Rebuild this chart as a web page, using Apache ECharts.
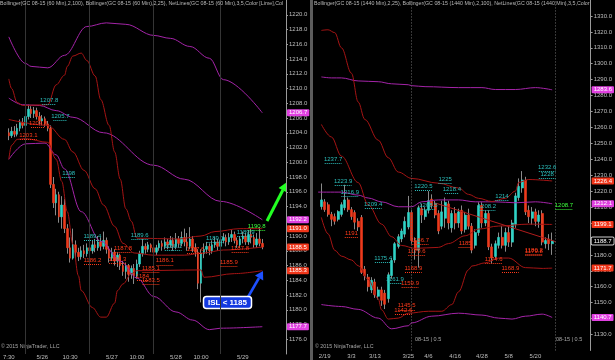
<!DOCTYPE html>
<html><head><meta charset="utf-8">
<script src="https://cdn.jsdelivr.net/npm/echarts@6/dist/echarts.min.js"></script>
<style>html,body{margin:0;padding:0;background:#000;}#c{width:615px;height:360px;}</style>
</head><body><div id="c"></div>
<script>
const FONT = 'Liberation Sans, Arial, sans-serif';

// ---------- LEFT PANEL (60 min) ----------
const leftSlots = 100;
const leftXLabels = [[0,'7:30'],[12,'5/26'],[22,'10:30'],[37,'5/27'],[46,'10:00'],[60,'5/28'],[69,'10:00'],[84,'5/29']];
const leftDayBreaks = [6, 29, 52, 76];
// [open, close, low, high]
const leftOHLC = [
[1204.0,1203.6,1203.0,1204.6],[1203.6,1204.2,1203.3,1204.8],[1204.2,1203.8,1203.4,1204.9],[1203.8,1204.6,1203.5,1205.2],
[1204.6,1205.4,1204.2,1205.8],[1205.4,1205.0,1204.6,1206.0],[1205.0,1206.2,1204.8,1206.6],[1206.2,1207.2,1205.8,1207.8],
[1207.2,1206.6,1206.0,1207.6],[1206.6,1207.0,1206.0,1207.5],[1207.0,1206.2,1205.8,1207.4],[1206.2,1205.6,1205.0,1206.8],
[1205.6,1205.9,1205.0,1206.4],[1205.9,1205.2,1204.8,1206.2],[1205.2,1204.6,1204.2,1205.6],[1204.6,1197.0,1196.5,1205.0],
[1197.0,1194.5,1193.8,1198.0],[1194.5,1195.6,1192.8,1196.4],[1195.6,1192.6,1191.8,1196.0],[1192.6,1194.2,1191.0,1195.4],
[1194.2,1191.0,1190.4,1195.0],[1191.0,1188.4,1187.6,1191.6],[1188.4,1187.0,1186.4,1189.8],[1187.0,1188.8,1186.8,1191.0],
[1188.8,1187.8,1187.0,1189.4],[1187.8,1187.2,1186.6,1188.4],[1187.2,1188.0,1186.8,1188.6],[1188.0,1187.6,1187.0,1188.8],
[1187.6,1188.4,1187.2,1189.0],[1188.4,1188.0,1187.4,1189.4],[1188.0,1188.8,1187.6,1189.4],[1188.8,1188.4,1187.8,1189.6],
[1188.4,1189.2,1188.0,1190.0],[1189.2,1188.6,1188.0,1189.8],[1188.6,1189.4,1188.2,1190.6],[1189.4,1188.2,1187.6,1189.8],
[1188.2,1187.0,1186.4,1188.6],[1187.0,1187.8,1186.6,1188.4],[1187.8,1186.6,1186.0,1188.2],[1186.6,1187.4,1185.8,1187.8],
[1187.4,1186.0,1185.4,1187.6],[1186.0,1185.2,1184.6,1186.6],[1185.2,1186.0,1184.2,1186.4],[1186.0,1184.8,1183.8,1186.2],
[1184.8,1185.6,1184.2,1186.0],[1185.6,1184.6,1183.5,1186.2],[1184.6,1186.2,1184.2,1186.8],[1186.2,1187.6,1185.8,1188.0],
[1187.6,1188.6,1187.2,1189.6],[1188.6,1188.2,1187.6,1189.0],[1188.2,1188.8,1187.8,1189.2],[1188.8,1188.4,1187.8,1189.0],
[1188.4,1187.8,1187.2,1188.8],[1187.8,1188.4,1187.4,1188.8],[1188.4,1189.0,1188.0,1189.4],[1189.0,1188.6,1188.0,1189.4],
[1188.6,1189.2,1188.2,1189.8],[1189.2,1188.8,1188.2,1189.6],[1188.8,1189.4,1188.4,1190.0],[1189.4,1188.6,1188.0,1189.8],
[1188.6,1189.6,1188.2,1190.4],[1189.6,1189.0,1188.4,1190.0],[1189.0,1189.8,1188.6,1190.6],[1189.8,1189.2,1188.6,1191.0],
[1189.2,1188.6,1188.0,1190.4],[1188.6,1189.6,1188.2,1191.2],[1189.6,1188.4,1187.8,1190.0],[1188.4,1187.8,1187.2,1189.0],
[1187.8,1183.6,1182.8,1188.2],[1183.6,1187.6,1181.0,1188.2],[1187.6,1188.2,1187.0,1189.0],[1188.2,1188.6,1187.6,1189.2],
[1188.6,1188.0,1187.4,1189.0],[1188.0,1188.8,1187.6,1189.4],[1188.8,1189.2,1188.4,1189.8],[1189.2,1188.6,1188.0,1189.6],
[1188.6,1189.4,1188.2,1190.0],[1189.4,1189.8,1189.0,1190.4],[1189.8,1189.2,1188.6,1190.2],[1189.2,1189.8,1188.8,1190.4],
[1189.8,1190.2,1189.2,1190.8],[1190.2,1189.4,1189.0,1190.6],[1189.4,1188.8,1188.4,1189.8],[1188.8,1189.6,1188.4,1190.0],
[1189.6,1190.0,1189.0,1190.6],[1190.0,1189.2,1188.8,1190.4],[1189.2,1190.2,1188.8,1190.8],[1190.2,1189.8,1189.0,1191.0],
[1189.8,1188.8,1188.4,1190.2],[1188.8,1189.6,1188.4,1190.4],[1189.6,1189.0,1188.6,1191.2],[1189.0,1188.5,1188.2,1189.6]
];
// Bollinger (2,100) – purple ; [barIndex, value]
const leftUpper100 = [[0,1217.0],[6,1213.4],[8,1213.0],[14,1212.8],[20,1214.5],[28,1218.4],[35,1218.9],[42,1218.7],[52,1217.2],[58,1216.8],[65,1215.7],[72,1214.1],[77,1211.2],[91,1206.7]];
const leftMid100   = [[0,1208.7],[5,1207.8],[11,1207.7],[17,1207.0],[23,1206.1],[34,1204.0],[52,1199.6],[63,1197.7],[76,1194.7],[91,1192.2]];
const leftLower100 = [[0,1200.4],[6,1202.5],[13,1202.6],[17,1201.0],[20,1199.1],[26,1193.3],[33,1189.3],[40,1186.6],[46,1184.3],[52,1181.8],[60,1179.7],[66,1178.6],[72,1177.3],[76,1177.5],[91,1177.7]];
// Bollinger (2,25) – dark red
const leftUpper25 = [[0,1211.3],[1,1210.0],[3,1208.1],[5,1207.7],[14,1207.8],[17,1210.5],[20,1211.8],[21,1213.0],[23,1214.4],[26,1214.8],[28,1213.8],[31,1211.7],[33,1208.5],[36,1205.0],[38,1201.4],[40,1197.7],[42,1193.7],[44,1192.0],[46,1189.7],[61,1189.6],[69,1190.0],[74,1190.6],[83,1191.0],[91,1191.0]];
const leftMid25   = [[0,1205.8],[14,1205.0],[20,1203.1],[23,1201.4],[27,1198.9],[31,1196.4],[34,1194.2],[38,1191.3],[41,1189.0],[45,1187.7],[52,1187.4],[63,1187.4],[70,1187.7],[77,1188.1],[91,1188.5]];
const leftLower25 = [[0,1200.4],[1,1202.3],[3,1203.1],[6,1203.2],[14,1202.7],[17,1200.4],[19,1197.4],[21,1193.3],[23,1188.9],[25,1184.6],[26,1182.6],[30,1180.3],[33,1179.0],[35,1179.0],[38,1180.9],[39,1182.6],[41,1183.5],[44,1184.9],[46,1185.3],[69,1185.4],[70,1184.4],[81,1184.9],[91,1185.3]];
// NetLines labels: [text, fromBar, toBar, kind h=high l=low g=lime]
const leftNet = [
['1207.8',12,17,'h'],['1205.7',16,21,'h'],['1198',19,24,'h'],['1189.4',27,33,'h'],['1189.6',44,50,'h'],['1188.1',56,62,'h'],['1189.1',71,77,'h'],['1189.9',82,88,'h'],
['1204.8',8,13,'l'],['1203.1',4,10,'l'],['1186.2',27,33,'l'],['1187.8',38,44,'l'],['1186.3',36,42,'l'],['1185.1',48,54,'l'],['1184',46,50,'l'],['1183.5',48,54,'l'],
['1186.1',53,59,'l'],['1187.6',64,70,'l'],['1185.9',76,82,'l'],['1187.8',80,86,'l'],
['1190.8',86,92,'g']
];

// ---------- RIGHT PANEL (1440 min) ----------
const rightSlots = 83, rightStart = 2;
const rightXLabels = [[3,'2/19'],[11,'3/3'],[18,'3/13'],[28,'3/25'],[34,'4/6'],[42,'4/16'],[50,'4/28'],[58,'5/8'],[66,'5/20']];
const rightSessionLines = [29, 72];
const rightOHLC = [
[1210.3,1214.5,1208.4,1224.8],[1213.3,1208.4,1207.0,1215.0],[1211.5,1205.4,1204.0,1213.0],[1205.4,1202.3,1198.0,1207.0],
[1204.0,1201.1,1199.0,1206.0],[1202.3,1207.2,1201.0,1208.0],[1205.4,1211.5,1204.0,1213.0],[1209.6,1214.5,1208.0,1224.0],
[1214.5,1208.4,1207.0,1216.0],[1208.4,1204.0,1202.0,1210.0],[1206.6,1200.5,1196.0,1208.0],[1201.1,1197.5,1195.0,1203.0],
[1203.5,1169.0,1168.0,1205.0],[1171.0,1167.0,1164.0,1173.0],[1166.0,1160.0,1157.0,1168.0],[1158.0,1164.0,1156.0,1166.0],
[1163.0,1155.0,1153.0,1165.0],[1154.0,1158.0,1152.0,1160.0],[1158.0,1151.5,1148.0,1160.0],[1156.0,1149.0,1146.0,1158.0],
[1152.5,1167.5,1150.0,1169.0],[1167.0,1176.5,1165.0,1178.0],[1176.8,1187.0,1175.0,1188.0],[1185.3,1191.4,1184.0,1193.0],
[1190.0,1195.0,1188.0,1196.5],[1193.0,1201.0,1191.0,1204.0],[1197.5,1206.6,1196.0,1217.0],[1206.6,1189.0,1187.0,1208.0],
[1189.0,1183.0,1177.0,1191.0],[1183.0,1209.6,1172.0,1211.0],[1209.0,1205.0,1200.0,1212.0],[1204.0,1208.0,1202.0,1210.0],
[1208.0,1214.0,1206.0,1220.0],[1215.0,1211.0,1209.0,1218.0],[1212.0,1205.0,1203.0,1214.0],[1206.0,1195.0,1193.0,1208.0],
[1198.0,1207.0,1196.0,1214.0],[1203.0,1213.0,1197.0,1216.0],[1212.0,1200.0,1196.0,1214.0],[1197.0,1206.0,1194.0,1208.0],
[1206.0,1200.0,1196.0,1210.0],[1200.0,1207.0,1197.0,1209.0],[1208.0,1195.0,1193.0,1211.0],[1196.0,1205.0,1194.0,1207.0],
[1205.0,1198.0,1196.0,1209.0],[1198.0,1183.0,1181.0,1200.0],[1186.0,1194.0,1184.0,1196.0],[1194.0,1211.0,1192.0,1213.0],
[1211.0,1200.0,1197.0,1213.0],[1200.0,1206.0,1198.0,1208.0],[1206.0,1185.0,1183.0,1208.0],[1185.0,1178.0,1174.6,1187.0],
[1179.0,1187.0,1177.0,1189.0],[1186.0,1191.0,1184.0,1194.0],[1191.0,1186.0,1184.0,1198.0],[1186.0,1194.0,1182.0,1197.0],
[1194.0,1188.0,1185.0,1198.0],[1188.0,1200.0,1185.0,1202.0],[1199.0,1217.0,1197.0,1219.0],[1216.0,1223.0,1214.0,1228.0],
[1222.0,1227.0,1219.0,1232.6],[1227.0,1207.0,1205.0,1229.0],[1208.0,1204.0,1200.0,1211.0],[1203.0,1207.0,1199.0,1210.0],
[1207.0,1201.0,1198.0,1209.0],[1201.0,1205.0,1197.0,1208.0],[1206.0,1188.0,1186.0,1208.0],[1187.0,1189.0,1184.0,1191.0],
[1190.0,1187.0,1183.0,1193.0],[1187.0,1188.7,1180.0,1194.0]
];
const rightUpper100 = [[2,1291.7],[5,1291.1],[8,1291.1],[13,1289.2],[19,1288.7],[23,1287.4],[28,1286.8],[29,1286.2],[33,1285.6],[43,1285.0],[50,1285.0],[54,1283.8],[60,1283.8],[66,1285.0],[71,1283.6]];
const rightMid100   = [[1,1219.4],[8,1219.4],[13,1217.5],[16,1215.7],[20,1213.3],[25,1210.2],[29,1210.2],[32,1213.3],[37,1214.5],[43,1214.5],[48,1213.3],[54,1213.3],[60,1212.7],[66,1213.3],[71,1212.1]];
const rightLower100 = [[2,1148.8],[8,1147.6],[13,1145.8],[19,1140.3],[23,1133.6],[28,1135.5],[29,1137.3],[35,1141.5],[43,1143.4],[50,1142.2],[55,1140.3],[59,1139.7],[63,1141.5],[68,1142.8],[71,1140.7]];
const rightUpper25 = [[2,1320.9],[4,1321.3],[6,1319.5],[8,1310.0],[11,1294.0],[13,1276.0],[15,1265.0],[19,1252.0],[22,1241.0],[25,1232.0],[29,1228.0],[37,1225.0],[43,1222.0],[46,1218.0],[49,1215.5],[53,1213.5],[57,1215.5],[60,1220.0],[61,1225.5],[64,1227.3],[71,1226.4]];
const rightMid25   = [[2,1261.9],[5,1254.0],[8,1242.0],[13,1225.4],[16,1211.5],[20,1199.3],[23,1191.4],[26,1185.9],[30,1184.1],[37,1184.7],[40,1187.1],[45,1192.0],[49,1196.2],[55,1198.1],[64,1199.3],[71,1199.1]];
const rightLower25 = [[2,1203.5],[4,1193.2],[6,1182.9],[8,1179.2],[11,1176.8],[13,1173.2],[16,1164.6],[19,1152.5],[20,1145.5],[22,1139.7],[25,1140.3],[28,1143.4],[34,1144.6],[38,1144.6],[41,1148.8],[43,1156.8],[46,1170.7],[47,1173.0],[51,1175.0],[55,1178.0],[58,1178.0],[63,1172.0],[68,1171.5],[71,1171.7]];
const rightTrend = [[36,1212.6],[72,1188.3]];
const rightNet = [
['1237.7',3,8,'h'],['1223.9',6,11,'h'],['1216.9',8,13,'h'],['1209.4',15,20,'h'],['1175.4',18,23,'h'],['1161.9',22,26,'h'],['1220.5',30,35,'h'],['1208.5',32,36,'h'],
['1225',37,41,'h'],['1218.4',39,43,'h'],['1208.2',49,54,'h'],['1214',54,58,'h'],['1232.6',67,72,'h'],['1228',67,72,'h'],
['1191',9,13,'l'],['1186.7',29,34,'l'],['1179.6',28,33,'l'],['1168.9',27,32,'l'],['1159.9',26,31,'l'],['1145.5',25,30,'l'],['1142.6',24,29,'l'],
['1185',43,47,'l'],['1174.6',51,56,'l'],['1168.9',56,61,'l'],['1180.2',63,68,'l'],['1179.8',63,68,'l'],
['1208.7',72,77,'g']
];

// ---------- styling helpers ----------
const UP='#2fd3c6', DN='#ee3a1c', WICK='#8a8a8a', PUR='#a424a8', BRED='#a51414';
const NETCOL = {h:'#2cbfbc', l:'#ff3a1a', g:'#3cff3c'};
const LBL='#bdbdbd';

function netMarks(list){
  return list.map(([t,i0,i1,k])=>{
    const v=parseFloat(t), col=NETCOL[k];
    return [{coord:[i0,v], lineStyle:{color:col,type:'dotted',width:1},
             label:{show:true, formatter:t, position:'insideMiddleTop', distance:1, color:col, fontSize:6, fontFamily:FONT}},
            {coord:[i1,v]}];
  });
}
function tag(v,bg,fg,border){
  return {yAxis:v, lineStyle:{color:'rgba(0,0,0,0)',width:1,opacity:1},
    label:{show:true, position:'end', distance:1, formatter:v.toFixed(1), backgroundColor:bg, color:fg,
      padding:[1,2,0,2], fontSize:6, fontFamily:FONT, borderColor:border||bg, borderWidth:border?1:0, borderRadius:1}};
}
function bb(data,color,g,tagBg){
  return {type:'line', xAxisIndex:g, yAxisIndex:g, data:data, smooth:0.35, smoothMonotone:'x', symbol:'none',
    lineStyle:{color:color,width:1}, z:4, silent:true, animation:false,
    markLine:{symbol:['none','none'], silent:true, animation:false, data:[tag(data[data.length-1][1],tagBg,'#fff')]}};
}
function wickSeries(ohlc,start,g,marks){
  return {type:'candlestick', xAxisIndex:g, yAxisIndex:g, data:ohlc.map((d,k)=>[k+start,d[0],d[1],d[2],d[3]]),
    encode:{x:0,y:[1,2,3,4]}, barWidth:1, z:2, silent:true,
    itemStyle:{color:WICK,color0:WICK,borderColor:WICK,borderColor0:WICK,borderWidth:1},
    markLine:{symbol:['none','none'], silent:true, animation:false, data:marks}};
}
function bodySeries(ohlc,start,g,w,marks){
  return {type:'candlestick', xAxisIndex:g, yAxisIndex:g,
    data:ohlc.map((d,k)=>[k+start,d[0],d[1],Math.min(d[0],d[1]),Math.max(d[0],d[1])]),
    encode:{x:0,y:[1,2,3,4]}, barWidth:w, z:3, silent:true,
    itemStyle:{color:UP,color0:DN,borderColor:UP,borderColor0:DN,borderWidth:0.6},
    markLine:{symbol:['none','none'], silent:true, animation:false, data:marks}};
}
function xAxis(g,slots,labels){
  const m={}; labels.forEach(([i,t])=>m[i]=t);
  return {type:'category', gridIndex:g, data:Array.from({length:slots},(_,k)=>k), boundaryGap:true,
    axisLine:{show:false}, axisTick:{show:false}, splitLine:{show:false},
    axisLabel:{interval:0, margin:g===0?0:3, color:LBL, fontSize:6, fontFamily:FONT, formatter:(v,idx)=>m[idx]||''}};
}
function yAxis(g,min,max,step){
  return {type:'value', gridIndex:g, position:'right', min:min, max:max, interval:step,
    axisLine:{show:true,lineStyle:{color:'#9a9a9a'}}, axisTick:{show:true,length:2,lineStyle:{color:'#9a9a9a'}},
    splitLine:{show:false},
    axisLabel:{color:LBL, fontSize:6, fontFamily:FONT, margin:3, showMinLabel:false, showMaxLabel:false, formatter:v=>v.toFixed(1)}};
}

const leftVert = leftDayBreaks.map(i=>({xAxis:i, lineStyle:{color:'#353535',type:'solid',width:1}, label:{show:false}}));
const rightVert = rightSessionLines.map(i=>({xAxis:i, lineStyle:{color:'#6e6e6e',type:[1,2],width:1}, label:{show:false}}));
const lastClose = rightOHLC[rightOHLC.length-1][1];

const chart = echarts.init(document.getElementById('c'), null, {renderer:'canvas'});
chart.setOption({
  backgroundColor:'#000', animation:false,
  title:[
    {text:'Bollinger(GC 08-15 (60 Min),2,100), Bollinger(GC 08-15 (60 Min),2,25), NetLines(GC 08-15 (60 Min),3,5,Color [Lime],Color [Lime])',
     left:0, top:1, padding:0, textStyle:{color:'#b8b8b8', fontSize:5.3, fontWeight:'normal', fontFamily:FONT, width:285, overflow:'truncate', ellipsis:''}},
    {text:'Bollinger(GC 08-15 (1440 Min),2,25), Bollinger(GC 08-15 (1440 Min),2,100), NetLines(GC 08-15 (1440 Min),3,5,Color [Lime],Color [Lime])',
     left:314, top:1, padding:0, textStyle:{color:'#b8b8b8', fontSize:5.3, fontWeight:'normal', fontFamily:FONT, width:277, overflow:'truncate', ellipsis:''}}
  ],
  grid:[
    {left:0, top:-3.92, width:286, height:358.1},
    {left:313, top:-11.45, width:278, height:361.9}
  ],
  xAxis:[xAxis(0,leftSlots,leftXLabels), xAxis(1,rightSlots,rightXLabels)],
  yAxis:[yAxis(0,1174,1222,2), yAxis(1,1120,1340,10)],
  series:[
    wickSeries(leftOHLC,0,0,leftVert),
    bodySeries(leftOHLC,0,0,2,netMarks(leftNet)),
    bb(leftUpper100,PUR,0,'#e040e0'), bb(leftMid100,PUR,0,'#e040e0'), bb(leftLower100,PUR,0,'#e040e0'),
    bb(leftUpper25,BRED,0,'#f0361a'), bb(leftMid25,BRED,0,'#f0361a'), bb(leftLower25,BRED,0,'#f0361a'),
    wickSeries(rightOHLC,rightStart,1,rightVert),
    bodySeries(rightOHLC,rightStart,1,2.5,netMarks(rightNet).concat([tag(lastClose,'#000','#fff','#d0d0d0')])),
    bb(rightUpper100,PUR,1,'#e040e0'), bb(rightMid100,PUR,1,'#e040e0'), bb(rightLower100,PUR,1,'#e040e0'),
    bb(rightUpper25,BRED,1,'#f0361a'), bb(rightMid25,BRED,1,'#f0361a'), bb(rightLower25,BRED,1,'#f0361a'),
    {type:'line', xAxisIndex:1, yAxisIndex:1, data:rightTrend, symbol:'none', lineStyle:{color:'#b01c1c',width:1}, z:4, silent:true}
  ],
  graphic:[
    {type:'rect', shape:{x:310,y:0,width:3,height:360}, style:{fill:'#5c5c5c'}, silent:true},
    {type:'line', shape:{x1:267,y1:221,x2:282.9,y2:190}, style:{stroke:'#22ff22',lineWidth:3}, silent:true},
    {type:'polygon', shape:{points:[[287,182],[287,192.5],[278.6,188]]}, style:{fill:'#22ff22'}, silent:true},
    {type:'line', shape:{x1:248,y1:297,x2:259,y2:278}, style:{stroke:'#1e50ff',lineWidth:2.5}, silent:true},
    {type:'polygon', shape:{points:[[263,271],[263.2,280.4],[255,275.6]]}, style:{fill:'#1e50ff'}, silent:true},
    {type:'rect', shape:{x:203.5,y:296.5,width:48,height:12,r:3}, style:{fill:'#1238e0',stroke:'#ffffff',lineWidth:1.5}, silent:true},
    {type:'text', x:227.5, y:302.8, style:{text:'ISL < 1185', fill:'#ffffff', font:'bold 8px '+FONT, textAlign:'center', textVerticalAlign:'middle'}, silent:true},
    {type:'text', x:1, y:347, style:{text:'© 2015 NinjaTrader, LLC', fill:'#a8a8a8', font:'5.3px '+FONT, textVerticalAlign:'middle'}, silent:true},
    {type:'text', x:315, y:347, style:{text:'© 2015 NinjaTrader, LLC', fill:'#a8a8a8', font:'5.3px '+FONT, textVerticalAlign:'middle'}, silent:true},
    {type:'text', x:415, y:339, style:{text:'08-15 | 0.5', fill:'#a8a8a8', font:'5.5px '+FONT, textVerticalAlign:'middle'}, silent:true},
    {type:'text', x:556, y:339, style:{text:'08-15 | 0.5', fill:'#a8a8a8', font:'5.5px '+FONT, textVerticalAlign:'middle'}, silent:true}
  ]
});
</script></body></html>
